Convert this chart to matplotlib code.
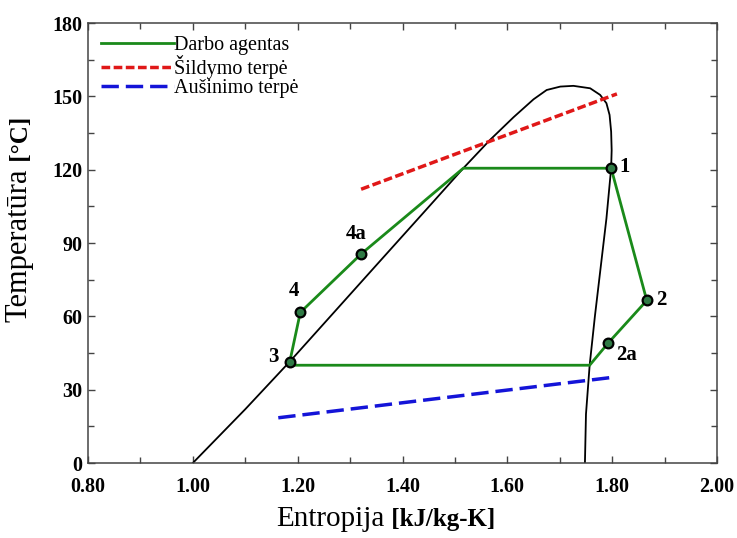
import numpy as np
import matplotlib.pyplot as plt
from matplotlib.ticker import MultipleLocator, FormatStrFormatter

# saturation dome (liquid side up to the top, then vapour side down)
dome_s = [1.000, 1.100, 1.185, 1.270, 1.357, 1.440, 1.516, 1.567, 1.612, 1.650,
          1.675, 1.701, 1.726, 1.758, 1.777, 1.789, 1.795, 1.798, 1.799, 1.798,
          1.789, 1.778, 1.767, 1.757, 1.750, 1.748]
dome_T = [0, 22, 41.5, 61.8, 82.6, 102.4, 120.6, 132.2, 141.5, 148.8,
          152.6, 154.0, 154.3, 153.3, 150.6, 147.2, 142.4, 135.6, 128, 120.6,
          100, 80, 60, 40, 20, 0]

# working fluid cycle
cycle_s = [1.185, 1.205, 1.321, 1.516, 1.798, 1.866, 1.792, 1.757, 1.185]
cycle_T = [41.5, 61.6, 85.5, 120.6, 120.6, 66.5, 49, 40, 40]

# state points
pt_names = ['1', '2', '2a', '3', '4', '4a']
pt_s = [1.798, 1.866, 1.792, 1.185, 1.205, 1.321]
pt_T = [120.6, 66.5, 49, 41.5, 61.6, 85.5]
lbl_s = [1.824, 1.894, 1.828, 1.153, 1.192, 1.311]
lbl_T = [121, 66.5, 44, 43.5, 70.5, 93.5]

# heating and cooling media
heat_s = [1.321, 1.809]
heat_T = [112, 151]
cool_s = [1.163, 1.799]
cool_T = [18.5, 35]

serif = ['Liberation Serif', 'DejaVu Serif']
plt.rcParams['font.family'] = serif

fig = plt.figure(figsize=(7.37, 5.38), dpi=100)
ax = fig.add_axes([0.1194, 0.1394, 0.8535, 0.8178])

ax.plot(dome_s, dome_T, color='black', lw=1.3, zorder=2)
ax.plot(cycle_s, cycle_T, color='#1a8a1a', lw=2.0, label='Darbo agentas', zorder=3)
ax.plot(heat_s, heat_T, color='#e01818', lw=2.5, ls=(0, (2.5, 1)),
        label='Šildymo terpė', zorder=3)
ax.plot(cool_s, cool_T, color='#1414d8', lw=2.5, ls=(0, (5, 2)),
        label='Aušinimo terpė', zorder=3)
ax.plot(pt_s, pt_T, ls='none', marker='o', ms=7, mfc='#2f7a45', mec='black',
        mew=1.6, zorder=4)

for name, s, t in zip(pt_names, lbl_s, lbl_T):
    ax.text(s, t, name, fontsize=15, fontweight='bold', ha='center', va='center')

ax.set_xlim(0.8, 2.0)
ax.set_ylim(0, 180)
ax.xaxis.set_major_locator(MultipleLocator(0.2))
ax.xaxis.set_minor_locator(MultipleLocator(0.1))
ax.yaxis.set_major_locator(MultipleLocator(30))
ax.yaxis.set_minor_locator(MultipleLocator(15))
ax.xaxis.set_major_formatter(FormatStrFormatter('%.2f'))
ax.tick_params(which='both', direction='in', top=True, right=True,
               color='#444444', width=1)
ax.tick_params(which='major', length=5, labelsize=14.5)
ax.tick_params(axis='x', which='major', pad=10)
ax.tick_params(axis='y', which='major', pad=4)
ax.tick_params(which='minor', length=4)
for lab in ax.get_xticklabels() + ax.get_yticklabels():
    lab.set_fontweight('bold')
for sp in ax.spines.values():
    sp.set_color('#444444')
    sp.set_linewidth(1.1)

leg = ax.legend(loc='upper left', frameon=False, fontsize=14.5,
                handlelength=3.6, handletextpad=0.0, labelspacing=0.0,
                borderaxespad=0.0, bbox_to_anchor=(0.008, 0.99))

# axis titles with mixed weights
xt = fig.text(0.375, 0.022, 'Entropija', fontsize=21, ha='left', va='baseline')
ax.annotate(' [kJ/kg-K]', xy=(1, 0.022), xycoords=(xt, 'figure fraction'),
            fontsize=18, fontweight='bold', ha='left', va='baseline')
yt = fig.text(0.045, 0.4015, 'Temperatūra', fontsize=22, rotation=90,
              ha='right', va='bottom')
ax.annotate(' [°C]', xy=(0.045, 1), xycoords=('figure fraction', yt),
            fontsize=18, fontweight='bold', rotation=90,
            ha='right', va='bottom')

fig.savefig('out.png', dpi=100)
